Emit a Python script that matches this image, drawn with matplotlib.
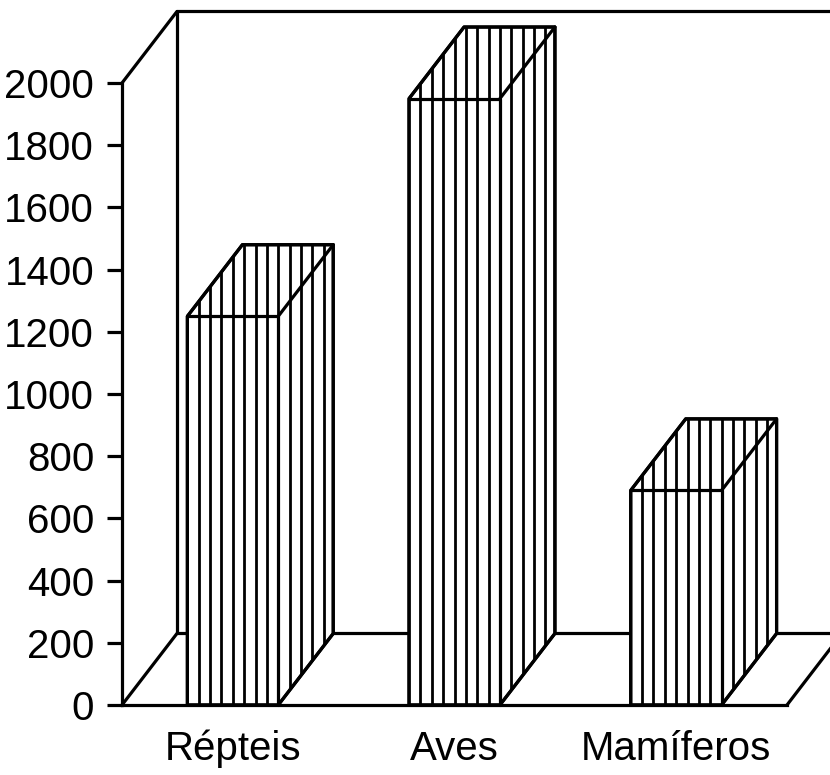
import numpy as np
import matplotlib.pyplot as plt
from matplotlib.patches import Polygon

categories = ["Répteis", "Aves", "Mamíferos"]
values = [1250, 1950, 690]
yticks = list(range(0, 2001, 200))

# pseudo-3D geometry (data units)
bar_w = 0.41
dx = 0.248
dy = 230
lw = 2.3

plt.rcParams['font.family'] = ['Liberation Sans', 'DejaVu Sans']

fig = plt.figure(figsize=(8.3, 7.75), dpi=100)
ax = fig.add_axes([122 / 830, 70 / 775, 665 / 830, 622 / 775])
ax.set_xlim(0, len(categories))
ax.set_ylim(0, 2000)

ax.spines["top"].set_visible(False)
ax.spines["right"].set_visible(False)
for s in ("left", "bottom"):
    ax.spines[s].set_linewidth(lw)
    ax.spines[s].set_zorder(1)

ax.set_yticks(yticks)
ax.set_yticklabels([str(t) for t in yticks], fontsize=29)
ax.tick_params(axis="y", length=11, width=lw, pad=9)
ax.set_xticks(np.arange(len(categories)) + 0.5)
ax.set_xticklabels(categories, fontsize=29)
ax.tick_params(axis="x", length=0, pad=18)

n = len(categories)
ymax = yticks[-1]
# back wall and floor
wall = dict(color="black", lw=lw, clip_on=False, zorder=1, solid_capstyle="round")
ax.plot([0, dx], [0, dy], **wall)
ax.plot([dx, n + dx + 0.3], [dy, dy], **wall)
ax.plot([n, n + 0.3], [0, 0.3 / dx * dy], **wall)
ax.plot([dx, dx], [dy, ymax + dy], **wall)
ax.plot([0, dx], [ymax, ymax + dy], **wall)
ax.plot([dx, n + dx + 0.3], [ymax + dy, ymax + dy], **wall)

# bars
for i, v in enumerate(values):
    x0 = i + 0.5 - bar_w / 2
    x1 = x0 + bar_w
    outline = [(x0, 0), (x1, 0), (x1 + dx, dy), (x1 + dx, v + dy),
               (x0 + dx, v + dy), (x0, v)]
    poly = Polygon(outline, closed=True, facecolor="white", edgecolor="black",
                   lw=lw, clip_on=False, zorder=3, joinstyle="round")
    ax.add_patch(poly)
    step = bar_w / 8
    for hx in np.arange(x0 + step, x1 + dx, step):
        ln, = ax.plot([hx, hx], [0, v + dy], color="black", lw=2.0, zorder=4)
        ln.set_clip_path(poly)
        ln.set_clip_box(None)
    edges = dict(color="black", lw=lw, zorder=5, clip_on=False, solid_capstyle="round")
    ax.plot([x0, x1, x1], [v, v, 0], **edges)
    ax.plot([x1, x1 + dx], [v, v + dy], **edges)
    ax.add_patch(Polygon(outline, closed=True, fill=False, edgecolor="black",
                         lw=lw, clip_on=False, zorder=6, joinstyle="round"))

fig.savefig("out.png", dpi=100)
